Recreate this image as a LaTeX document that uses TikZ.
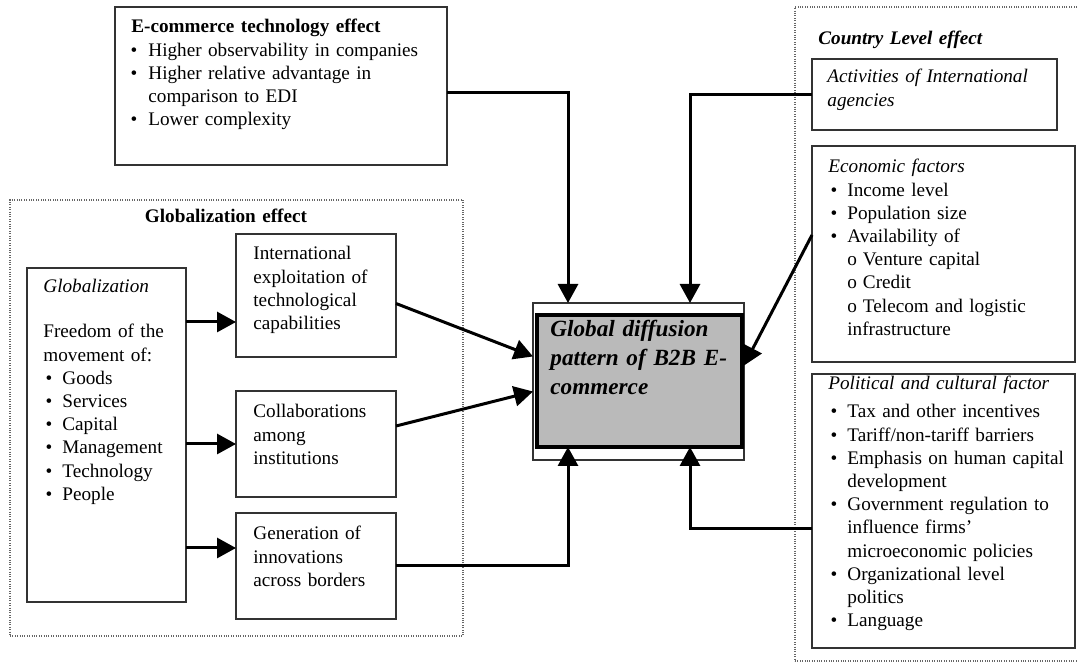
\documentclass[tikz,border=0pt]{standalone}
\usepackage{fontspec}
\setmainfont{Liberation Serif}
\usepackage{enumitem}
\setlist[itemize]{label=\textbullet, leftmargin=9.5pt, labelsep=5pt, nosep}
\usetikzlibrary{arrows.meta}

\begin{document}
\begin{tikzpicture}[
    x=0.5pt, y=-0.5pt,
    frame/.style={draw=black!80, line width=0.6pt, inner sep=0pt,
      outer sep=0pt, anchor=north west},
    group/.style={draw=black!60, dash pattern={on 0.5pt off 0.7pt},
      line width=0.6pt, inner sep=0pt, outer sep=0pt, anchor=north west},
    txt/.style={inner sep=0pt, anchor=base west, align=left,
      font=\fontsize{9.6}{11.6}\selectfont},
    link/.style={draw, line width=1.5pt,
      -{Triangle[length=9.5pt, width=10pt]}}
  ]
  \path[use as bounding box, clip] (0,0) rectangle (1078,668);

  % dotted groups
  \node[group, minimum width=226.5pt, minimum height=218pt] (globfx) at (10,200) {};
  \node[group, minimum width=150pt, minimum height=327pt] (country) at (795,7) {};

  % e-commerce technology
  \node[frame, minimum width=166pt, minimum height=79pt] (ecom) at (115,7) {};
  \node[txt, text width=160pt] (ecomtxt) at (131,33) {\textbf{E-commerce technology effect}
    \begin{itemize}[leftmargin=8.5pt, labelsep=5.5pt]
      \item Higher observability in companies
      \item Higher relative advantage in\\comparison to EDI
      \item Lower complexity
    \end{itemize}};

  % globalization
  \node[txt, anchor=base, text width=120pt, align=center] (globfxtxt) at (226,223)
    {\textbf{Globalization effect}};
  \node[frame, minimum width=79.5pt, minimum height=167pt] (glob) at (27,268) {};
  \node[txt, text width=72pt] (globtxt) at (43,293) {\textit{Globalization}\\[10.9pt]
    Freedom of the\\movement of:
    \begin{itemize}
      \item Goods
      \item Services
      \item Capital
      \item Management
      \item Technology
      \item People
    \end{itemize}};
  \node[frame, minimum width=80pt, minimum height=61.5pt] (intl) at (236,234) {};
  \node[txt, text width=70pt] (intltxt) at (253,260)
    {International\\exploitation of\\technological\\capabilities};
  \node[frame, minimum width=80pt, minimum height=53pt] (collab) at (236,391) {};
  \node[txt, text width=70pt] (collabtxt) at (253,418)
    {Collaborations\\among\\institutions};
  \node[frame, minimum width=80pt, minimum height=53pt] (gen) at (236,513) {};
  \node[txt, text width=70pt] (gentxt) at (253,540)
    {Generation of\\innovations\\across borders};

  % central box
  \node[frame, minimum width=105.5pt, minimum height=78.5pt] (target) at (533,303) {};
  \node[frame, draw=black, line width=2.2pt, fill=black!27,
    minimum width=102.5pt, minimum height=66pt] (core) at (537,315) {};
  \node[txt, text width=100pt, font=\fontsize{11.6}{14.5}\selectfont\bfseries\itshape]
    (coretxt) at (550,337) {Global diffusion\\pattern of B2B E-\\commerce};

  % country level
  \node[txt, text width=120pt, font=\fontsize{9.6}{11.6}\selectfont\bfseries\itshape]
    (countrytxt) at (818,45) {Country Level effect};
  \node[frame, minimum width=122.5pt, minimum height=35.5pt] (act) at (812,59) {};
  \node[txt, text width=118pt] (acttxt) at (827,83)
    {\itshape Activities of International\\agencies};
  \node[frame, minimum width=131.5pt, minimum height=108pt] (econ) at (812,146) {};
  \node[txt, text width=125pt] (econtxt) at (828,173) {\textit{Economic factors}
    \begin{itemize}
      \item Income level
      \item Population size
      \item Availability of\\
        o\hspace{3pt}Venture capital\\
        o\hspace{3pt}Credit\\
        o\hspace{3pt}Telecom and logistic\\
        infrastructure
    \end{itemize}};
  \node[frame, minimum width=131.5pt, minimum height=137pt] (pol) at (812,374) {};
  \node[txt, text width=125pt] (poltxt) at (828,390) {\textit{Political and cultural factor}
    \begin{itemize}[topsep=2.4pt]
      \item Tax and other incentives
      \item Tariff/non-tariff barriers
      \item Emphasis on human capital\\development
      \item Government regulation to\\influence firms’\\microeconomic policies
      \item Organizational level\\politics
      \item Language
    \end{itemize}};

  % connectors
  \coordinate (inA) at ([shift={(0,26.5)}]intl.west);
  \coordinate (inC) at ([shift={(0,-18)}]gen.west);
  \draw[link] (glob.east |- inA) -- (inA);
  \draw[link] (glob.east |- collab.west) -- (collab.west);
  \draw[link] (glob.east |- inC) -- (inC);

  \draw[link] ([shift={(0,7)}]ecom.east) -| ([shift={(35,0)}]target.north west);
  \draw[link] (act.west) -| ([shift={(157,0)}]target.north west);
  \draw[link] ([shift={(0,8)}]intl.east) -- ([shift={(0,-25)}]target.west);
  \draw[link] ([shift={(0,-18)}]collab.east) -- ([shift={(0,10)}]target.west);
  \draw[link] ([shift={(0,-19)}]econ.west) -- ([shift={(0,-16)}]target.east);
  \draw[link] (gen.east) -| ([shift={(31,0)}]core.south west);
  \draw[link] ([shift={(0,18)}]pol.west) -| ([shift={(153,0)}]core.south west);
\end{tikzpicture}
\end{document}
